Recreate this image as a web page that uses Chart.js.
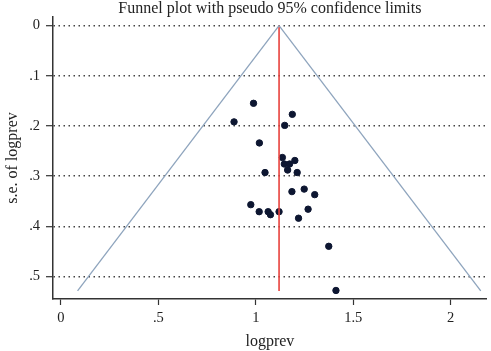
<!DOCTYPE html>
<html>
<head>
<meta charset="utf-8">
<script src="https://cdn.jsdelivr.net/npm/chart.js@4"></script>
<style>
  html, body { margin: 0; padding: 0; background: #fff; }
  #wrap { width: 491px; height: 351px; }
</style>
</head>
<body>
<div id="wrap"><canvas id="funnel" width="491" height="351"></canvas></div>
<script>
// study estimates (logprev) and their standard errors
const logprev = [0.988, 1.187, 0.888, 1.148, 1.018, 1.136, 1.146, 1.173, 1.200, 1.163,
                 1.047, 1.212, 1.185, 1.248, 1.302, 0.974, 1.268, 1.017, 1.063, 1.075,
                 1.119, 1.219, 1.374, 1.411];
const seLogprev = [0.155, 0.177, 0.192, 0.199, 0.234, 0.263, 0.276, 0.276, 0.269, 0.288,
                   0.293, 0.293, 0.331, 0.326, 0.337, 0.357, 0.366, 0.371, 0.371, 0.377,
                   0.371, 0.384, 0.440, 0.528];

// pooled estimate line and pseudo 95% limits
const pooledX = [1.119, 1.119];
const pooledSe = [0, 0.529];
const lowerLimitX = [1.119, 0.085];
const upperLimitX = [1.119, 2.154];
const limitSe = [0, 0.529];

const xTicks = [0, 0.5, 1, 1.5, 2];
const yTicks = [0, 0.1, 0.2, 0.3, 0.4, 0.5];

const fmt = v => {
    if (v === 0) return "0";
    let s = String(Math.round(v * 10) / 10);
    return s.startsWith("0.") ? s.substring(1) : s;
};

const toPts = (xs, ys) => xs.map((x, i) => ({ x, y: ys[i] }));

const serif = "'Liberation Serif', 'DejaVu Serif', serif";
const axisColor = "#333";

new Chart(document.getElementById("funnel"), {
    type: "scatter",
    data: {
        datasets: [
            {
                type: "line",
                data: toPts(lowerLimitX, limitSe),
                borderColor: "#8ea4bd",
                borderWidth: 1.3,
                pointRadius: 0,
                fill: false
            },
            {
                type: "line",
                data: toPts(upperLimitX, limitSe),
                borderColor: "#8ea4bd",
                borderWidth: 1.3,
                pointRadius: 0,
                fill: false
            },
            {
                type: "line",
                data: toPts(pooledX, pooledSe),
                borderColor: "#e8413c",
                borderWidth: 1.6,
                pointRadius: 0,
                fill: false
            },
            {
                data: toPts(logprev, seLogprev),
                backgroundColor: "#0d1631",
                borderColor: "#0d1631",
                pointRadius: 3.2,
                pointHoverRadius: 3.2
            }
        ]
    },
    options: {
        responsive: false,
        animation: false,
        parsing: false,
        layout: { padding: { top: 0, right: 1, bottom: 0, left: 0 } },
        plugins: {
            legend: { display: false },
            tooltip: { enabled: false },
            title: {
                display: true,
                fullSize: false,
                text: "Funnel plot with pseudo 95% confidence limits",
                color: "#222",
                font: { family: serif, size: 16, weight: "normal", lineHeight: 1.0 },
                padding: { top: 1, bottom: 0 }
            }
        },
        scales: {
            x: {
                type: "linear",
                min: -0.041,
                max: 2.185,
                afterBuildTicks: s => { s.ticks = xTicks.map(v => ({ value: v })); },
                afterFit: s => { s.height = 52; },
                border: { display: true, color: axisColor, width: 1.5 },
                grid: {
                    drawOnChartArea: false,
                    drawTicks: true,
                    tickLength: 6,
                    tickColor: axisColor,
                    tickWidth: 1.2
                },
                ticks: {
                    color: "#222",
                    font: { family: serif, size: 14.5 },
                    padding: 4,
                    maxRotation: 0,
                    callback: v => fmt(v)
                },
                title: {
                    display: true,
                    text: "logprev",
                    color: "#222",
                    font: { family: serif, size: 16 },
                    padding: { top: 1, bottom: 0 }
                }
            },
            y: {
                type: "linear",
                reverse: true,
                min: -0.017,
                max: 0.545,
                afterBuildTicks: s => { s.ticks = yTicks.map(v => ({ value: v })); },
                afterFit: s => { s.width = 53; },
                border: { display: true, color: axisColor, width: 1.5, dash: [1.5, 3.5] },
                grid: {
                    drawOnChartArea: true,
                    drawTicks: true,
                    tickLength: 7,
                    color: "#444",
                    lineWidth: 1.4,
                    tickColor: axisColor,
                    tickWidth: 1.2,
                    tickBorderDash: []
                },
                ticks: {
                    color: "#222",
                    font: { family: serif, size: 14.5 },
                    padding: 6,
                    callback: v => fmt(v)
                },
                title: {
                    display: true,
                    text: "s.e. of logprev",
                    color: "#222",
                    font: { family: serif, size: 16 },
                    padding: { top: 3, bottom: 2 }
                }
            }
        }
    }
});
</script>
</body>
</html>
